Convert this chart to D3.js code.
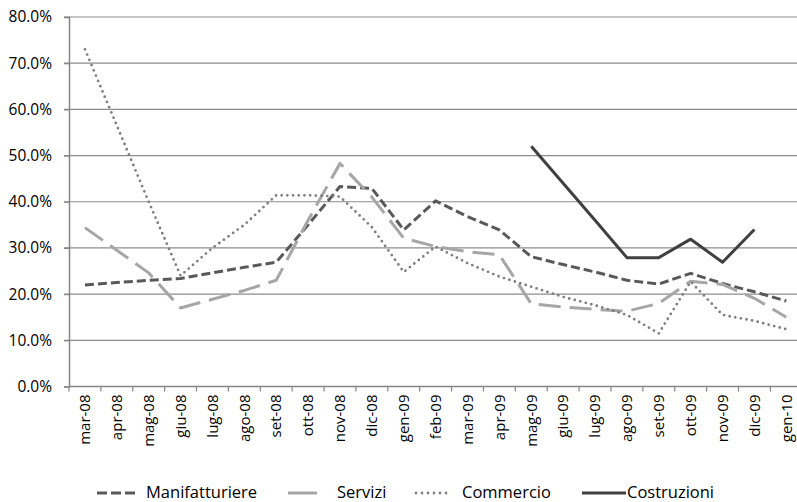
<!DOCTYPE html>
<html>
<head>
<meta charset="utf-8">
<script src="https://cdn.jsdelivr.net/npm/d3@7"></script>
<style>
  body { margin: 0; background: #fff; }
  text { font-family: "Open Sans", sans-serif; fill: #000; }
</style>
</head>
<body>
<div id="chart"></div>
<script>
var months = ["mar-08","apr-08","mag-08","giu-08","lug-08","ago-08","set-08","ott-08","nov-08","dic-08",
  "gen-09","feb-09","mar-09","apr-09","mag-09","giu-09","lug-09","ago-09","set-09","ott-09","nov-09","dic-09","gen-10"];

var manifatturiere = [22.0, 22.5, 23.0, 23.4, 24.6, 25.8, 26.9, 35.0, 43.3, 42.9, 33.9, 40.2, 36.8, 33.9,
  28.1, 26.4, 24.8, 23.0, 22.2, 24.5, 22.3, 20.5, 18.5];
var servizi = [34.4, 29.5, 24.6, 17.0, 18.9, 20.8, 23.0, 36.0, 48.3, 41.0, 32.1, 30.3, 29.2, 28.5,
  17.9, 17.2, 16.7, 16.3, 18.0, 22.8, 22.1, 19.1, 15.0];
var commercio = [73.0, 56.5, 40.0, 24.0, 30.0, 35.0, 41.4, 41.4, 41.1, 34.5, 24.8, 30.3, 26.7, 23.8,
  21.6, 19.4, 17.6, 15.5, 11.5, 22.7, 15.5, 14.2, 12.4];
var costruzioni = [null, null, null, null, null, null, null, null, null, null, null, null, null, null,
  52.0, 44.0, 36.0, 27.9, 27.9, 31.9, 26.9, 34.0, null];

var yTicks = [0, 10, 20, 30, 40, 50, 60, 70, 80];

var series = [
  { name: "Manifatturiere", values: manifatturiere, color: "#595959", width: 3, dash: "9,4", cap: "butt" },
  { name: "Servizi", values: servizi, color: "#a6a6a6", width: 3, dash: "22,9", cap: "butt" },
  { name: "Commercio", values: commercio, color: "#7f7f7f", width: 2.8, dash: "0,5.7", cap: "round" },
  { name: "Costruzioni", values: costruzioni, color: "#404040", width: 3, dash: null, cap: "butt" }
];

(function () {
  var W = 797, H = 502;
  var left = 69, plotTop = 17, bottom = 386.5, step = 31.88;

  var svg = d3.select("#chart").append("svg")
    .attr("width", W)
    .attr("height", H);

  var x = d3.scaleBand()
    .domain(months)
    .range([left, left + step * months.length]);

  var y = d3.scaleLinear()
    .domain([0, 80])
    .range([bottom, plotTop]);

  // gridlines
  svg.append("g").selectAll("line")
    .data(yTicks.filter(function (d) { return d > 0; }))
    .enter().append("line")
    .attr("x1", left - 5).attr("x2", W)
    .attr("y1", function (d) { return y(d); })
    .attr("y2", function (d) { return y(d); })
    .attr("stroke", "#8c8c8c")
    .attr("stroke-width", 1.2);

  // y axis
  var yAxis = svg.append("g")
    .attr("transform", "translate(" + left + ",0)")
    .call(d3.axisLeft(y).tickValues(yTicks).tickSize(5).tickPadding(12)
      .tickFormat(function (d) { return d.toFixed(1) + "%"; }));
  yAxis.select(".domain").attr("stroke", "#868686").attr("stroke-width", 1.5);
  yAxis.selectAll(".tick line").attr("stroke", "#868686").attr("stroke-width", 1.2);
  yAxis.selectAll(".tick text").style("font-size", "15.5px").style("font-family", "Open Sans").attr("fill", "#000");

  // x axis
  var xAxis = svg.append("g")
    .attr("transform", "translate(0," + bottom + ")")
    .call(d3.axisBottom(x).tickSize(0).tickPadding(0));
  xAxis.select(".domain").remove();
  xAxis.append("line")
    .attr("x1", left).attr("x2", W)
    .attr("stroke", "#868686").attr("stroke-width", 1.5);
  xAxis.selectAll(".bound")
    .data(months)
    .enter().append("line")
    .attr("class", "bound")
    .attr("x1", function (d) { return x(d); })
    .attr("x2", function (d) { return x(d); })
    .attr("y1", 0).attr("y2", 5)
    .attr("stroke", "#868686").attr("stroke-width", 1.2);
  xAxis.selectAll(".tick text")
    .style("font-size", "15px").style("font-family", "Open Sans").attr("fill", "#000")
    .attr("text-anchor", "end")
    .attr("transform", "translate(0,8) rotate(-90)")
    .attr("x", 0).attr("y", 0).attr("dy", "0.35em");

  // lines
  var line = d3.line()
    .defined(function (d) { return d.v !== null; })
    .x(function (d) { return x(d.m) + x.bandwidth() / 2; })
    .y(function (d) { return y(d.v); });

  svg.append("g").selectAll("path")
    .data(series)
    .enter().append("path")
    .attr("d", function (s) {
      return line(s.values.map(function (v, i) { return { m: months[i], v: v }; }));
    })
    .attr("fill", "none")
    .attr("stroke", function (s) { return s.color; })
    .attr("stroke-width", function (s) { return s.width; })
    .attr("stroke-dasharray", function (s) { return s.dash; })
    .attr("stroke-linecap", function (s) { return s.cap; })
    .attr("stroke-linejoin", "round");

  // legend
  var legendPos = [
    { x1: 97, x2: 137, tx: 146 },
    { x1: 288, x2: 317, tx: 337 },
    { x1: 416, x2: 452, tx: 462 },
    { x1: 582, x2: 626, tx: 627 }
  ];
  var lg = svg.append("g").selectAll("g")
    .data(series)
    .enter().append("g");
  lg.append("line")
    .attr("x1", function (d, i) { return legendPos[i].x1; })
    .attr("x2", function (d, i) { return legendPos[i].x2; })
    .attr("y1", 493).attr("y2", 493)
    .attr("stroke", function (s) { return s.color; })
    .attr("stroke-width", function (s) { return s.width; })
    .attr("stroke-dasharray", function (s, i) { return i === 0 ? "10,4" : (i === 2 ? "0,6" : null); })
    .attr("stroke-linecap", function (s) { return s.cap; });
  lg.append("text")
    .attr("x", function (d, i) { return legendPos[i].tx; })
    .attr("y", 498)
    .style("font-size", "16.5px")
    .text(function (s) { return s.name; });
})();
</script>
</body>
</html>
